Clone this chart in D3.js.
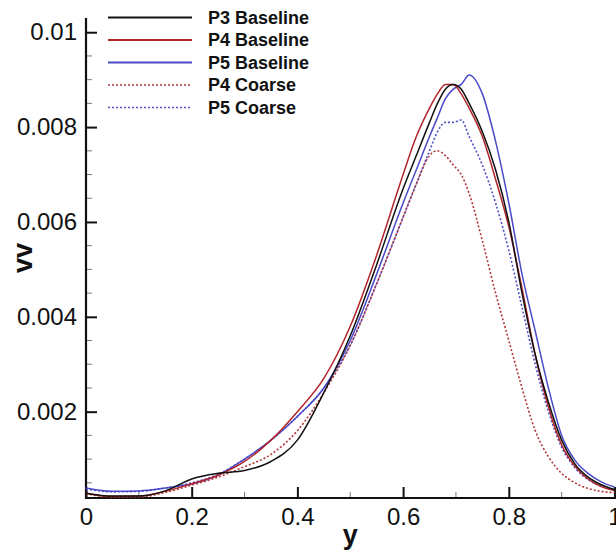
<!DOCTYPE html>
<html>
<head>
<meta charset="utf-8">
<script src="https://cdn.jsdelivr.net/npm/d3@7"></script>
<style>
  body { margin: 0; background: #fff; }
  text { font-family: "Liberation Sans", Arial, sans-serif; }
</style>
</head>
<body>
<svg id="chart" width="616" height="553"></svg>
<script>
// positions along y (shared by every series)
var yPos = [0, 0.05, 0.1, 0.15, 0.2, 0.25, 0.3, 0.35, 0.4, 0.45, 0.5, 0.55, 0.6, 0.625, 0.65,
  0.665, 0.68, 0.695, 0.71, 0.725, 0.75, 0.775, 0.8, 0.825, 0.85, 0.875, 0.9, 0.925, 0.95, 0.975, 1];

var p3Baseline = [0.00028, 0.00022, 0.00022, 0.00033, 0.00058, 0.00070, 0.00076, 0.00095, 0.0014, 0.0024, 0.0036, 0.0051, 0.0067, 0.0074, 0.0081,
  0.0085, 0.0088, 0.0089, 0.0088, 0.0085, 0.0079, 0.0071, 0.0060, 0.0045, 0.0032, 0.0022, 0.0014, 0.0009, 0.00062, 0.00046, 0.00036];
var p4Baseline = [0.00028, 0.00021, 0.00022, 0.00032, 0.00048, 0.00066, 0.00095, 0.0014, 0.0020, 0.0027, 0.0038, 0.0053, 0.0070, 0.0078, 0.0084,
  0.0087, 0.0089, 0.0089, 0.0087, 0.0084, 0.0078, 0.0069, 0.0059, 0.0046, 0.0032, 0.0021, 0.0013, 0.00085, 0.00058, 0.00042, 0.00034];
var p5Baseline = [0.00039, 0.00032, 0.00033, 0.00039, 0.00048, 0.00066, 0.0010, 0.0014, 0.0019, 0.0025, 0.0035, 0.0049, 0.0064, 0.0071, 0.0078,
  0.0082, 0.0086, 0.0088, 0.0089, 0.0091, 0.0087, 0.0077, 0.0064, 0.0049, 0.0037, 0.0025, 0.0015, 0.00098, 0.0007, 0.00052, 0.00041];
var p4Coarse = [0.00027, 0.0002, 0.0002, 0.0003, 0.00045, 0.00062, 0.00084, 0.0011, 0.0016, 0.0024, 0.0034, 0.0047, 0.0061, 0.0068, 0.0074,
  0.0075, 0.0074, 0.0072, 0.0070, 0.0066, 0.0056, 0.0045, 0.0035, 0.0025, 0.0016, 0.00105, 0.0007, 0.0005, 0.00038, 0.00032, 0.00029];
var p5Coarse = [0.00037, 0.00031, 0.00032, 0.00039, 0.0005, 0.00068, 0.0010, 0.0014, 0.0019, 0.0025, 0.0034, 0.0047, 0.0061, 0.0068, 0.0075,
  0.0079, 0.0081, 0.0081, 0.00815, 0.0078, 0.0072, 0.0064, 0.0054, 0.0042, 0.0030, 0.0020, 0.00125, 0.00082, 0.00057, 0.00043, 0.00036];

var seriesNames = ["P3 Baseline", "P4 Baseline", "P5 Baseline", "P4 Coarse", "P5 Coarse"];
var xTicks = [0, 0.2, 0.4, 0.6, 0.8, 1];
var xTickLabels = ["0", "0.2", "0.4", "0.6", "0.8", "1"];
var vTicks = [0.002, 0.004, 0.006, 0.008, 0.01];
var vTickLabels = ["0.002", "0.004", "0.006", "0.008", "0.01"];

var series = [
  {name: seriesNames[0], values: p3Baseline, color: "#111111", dash: null},
  {name: seriesNames[1], values: p4Baseline, color: "#b2252a", dash: null},
  {name: seriesNames[2], values: p5Baseline, color: "#4a4ac8", dash: null},
  {name: seriesNames[3], values: p4Coarse, color: "#b2353a", dash: "2,2"},
  {name: seriesNames[4], values: p5Coarse, color: "#5050c8", dash: "2,2"}
];

var svg = d3.select("#chart");
var plotLeft = 86, plotRight = 614.5, plotTop = 18, plotBottom = 498;

var x = d3.scaleLinear().domain([0, 1]).range([plotLeft, plotRight]);
var v = d3.scaleLinear().domain([0.00018, 0.0103]).range([plotBottom, plotTop]);

// minor ticks
var xMinor = [0.1, 0.3, 0.5, 0.7, 0.9];
var vMinor = d3.range(1, 21).map(function(d) { return d * 0.0005; })
  .filter(function(d, i) { return (i + 1) % 4 !== 0 && v(d) > plotTop && v(d) < plotBottom; });

svg.append("g").selectAll("line").data(xMinor).enter().append("line")
  .attr("x1", function(d) { return x(d); }).attr("x2", function(d) { return x(d); })
  .attr("y1", plotBottom).attr("y2", plotBottom - 6)
  .attr("stroke", "#777").attr("stroke-width", 1);
svg.append("g").selectAll("line").data(vMinor).enter().append("line")
  .attr("x1", plotLeft).attr("x2", plotLeft + 6)
  .attr("y1", function(d) { return v(d); }).attr("y2", function(d) { return v(d); })
  .attr("stroke", "#777").attr("stroke-width", 1);

// axes
var xAxis = d3.axisBottom(x).tickValues(xTicks).tickSize(-11).tickPadding(10)
  .tickFormat(function(d, i) { return xTickLabels[i]; });
var gx = svg.append("g").attr("transform", "translate(0," + plotBottom + ")").call(xAxis);
var vAxis = d3.axisLeft(v).tickValues(vTicks).tickSize(-11).tickPadding(9)
  .tickFormat(function(d, i) { return vTickLabels[i]; });
var gv = svg.append("g").attr("transform", "translate(" + plotLeft + ",0)").call(vAxis);

[gx, gv].forEach(function(g) {
  g.select(".domain").remove();
  g.selectAll(".tick line").attr("stroke", "#111").attr("stroke-width", 2);
  g.selectAll(".tick text").attr("font-size", 24).attr("fill", "#111")
    .style("font-family", "'Liberation Sans', Arial, sans-serif");
});
gx.selectAll(".tick text").attr("dy", "0.71em");

svg.append("line").attr("x1", plotLeft).attr("x2", plotLeft).attr("y1", plotTop).attr("y2", plotBottom + 1)
  .attr("stroke", "#111").attr("stroke-width", 2.2);
svg.append("line").attr("x1", plotLeft - 1).attr("x2", 616).attr("y1", plotBottom).attr("y2", plotBottom)
  .attr("stroke", "#111").attr("stroke-width", 2.2);

// curves
var line = d3.line()
  .x(function(d, i) { return x(yPos[i]); })
  .y(function(d) { return v(d); })
  .curve(d3.curveMonotoneX);

svg.append("g").selectAll("path").data(series.slice().reverse()).enter().append("path")
  .attr("d", function(s) { return line(s.values); })
  .attr("fill", "none")
  .attr("stroke", function(s) { return s.color; })
  .attr("stroke-width", function(s) { return s.dash ? 1.6 : 1.5; })
  .attr("stroke-dasharray", function(s) { return s.dash; });

// legend
var legend = svg.append("g").selectAll("g").data(series).enter().append("g")
  .attr("transform", function(s, i) { return "translate(108," + (17.5 + i * 22.5) + ")"; });
legend.append("line").attr("x1", 0).attr("x2", 84)
  .attr("stroke", function(s) { return s.color; })
  .attr("stroke-width", function(s) { return s.dash ? 1.6 : 1.8; })
  .attr("stroke-dasharray", function(s) { return s.dash; });
legend.append("text").attr("x", 100).attr("dy", "0.36em")
  .attr("font-size", 18).attr("font-weight", "bold").attr("fill", "#111")
  .text(function(s) { return s.name; });

// axis titles
svg.append("text").attr("x", x(0.5)).attr("y", 544).attr("text-anchor", "middle")
  .attr("font-size", 27).attr("font-weight", "bold").attr("fill", "#111").text("y");
svg.append("text").attr("transform", "translate(32,258) rotate(-90)").attr("text-anchor", "middle")
  .attr("font-size", 27).attr("font-weight", "bold").attr("fill", "#111").text("vv");
</script>
</body>
</html>
